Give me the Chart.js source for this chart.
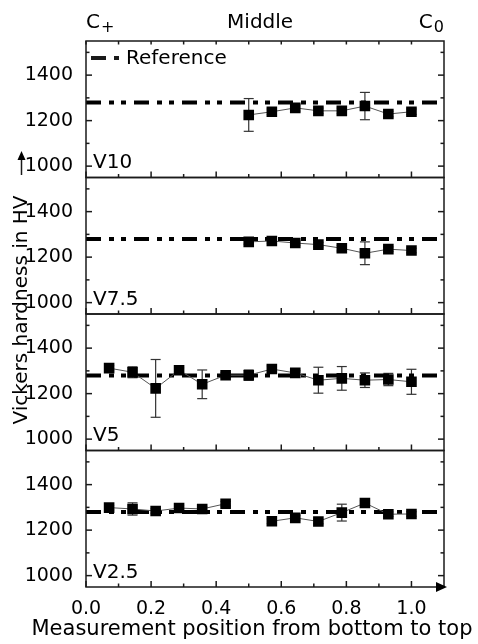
<!DOCTYPE html>
<html>
<head>
<meta charset="utf-8">
<title>Vickers hardness</title>
<script src="https://cdn.jsdelivr.net/npm/chart.js@4.4.1/dist/chart.umd.min.js"></script>
<style>
    html, body { margin: 0; padding: 0; background: #fff; }
    #wrap { position: relative; width: 478px; height: 644px; }
</style>
</head>
<body>
<div id="wrap"><canvas id="hv-chart"></canvas></div>
<script>
/* global Chart */
'use strict';

// ─── Data ───────────────────────────────────────────────────

const POSITIONS = [0.071, 0.143, 0.214, 0.286, 0.357, 0.429, 0.5, 0.571, 0.643, 0.714, 0.786, 0.857, 0.929, 1.0];

const HV_V10  = [null, null, null, null, null, null, 1225, 1239, 1256, 1243, 1243, 1264, 1229, 1239];
const ERR_V10 = [null, null, null, null, null, null, 72, 12, 14, 12, 12, 60, 12, 12];

const HV_V75  = [null, null, null, null, null, null, 1267, 1271, 1262, 1255, 1239, 1217, 1235, 1229];
const ERR_V75 = [null, null, null, null, null, null, 10, 10, 10, 10, 12, 50, 10, 10];

const HV_V5   = [1312, 1294, 1223, 1303, 1241, 1281, 1281, 1308, 1291, 1259, 1267, 1259, 1262, 1252];
const ERR_V5  = [12, 24, 127, 10, 63, 12, 23, 14, 10, 57, 52, 32, 27, 55];

const HV_V25  = [1299, 1293, 1284, 1297, 1293, 1316, null, 1239, 1254, 1238, 1277, 1319, 1270, 1271];
const ERR_V25 = [10, 27, 10, 10, 10, 10, null, 10, 10, 10, 37, 10, 10, 10];

const REFERENCE_HV = 1280;

// bottom panel first: Chart.js stacks left axes last-defined on top
const PANELS = [
    { id: 'yV25', label: 'V2.5', values: HV_V25, errors: ERR_V25 },
    { id: 'yV5',  label: 'V5',   values: HV_V5,  errors: ERR_V5 },
    { id: 'yV75', label: 'V7.5', values: HV_V75, errors: ERR_V75 },
    { id: 'yV10', label: 'V10',  values: HV_V10, errors: ERR_V10 },
];

const X_MAJOR = [0, 0.2, 0.4, 0.6, 0.8, 1.0];
const X_MINOR = [0.1, 0.3, 0.5, 0.7, 0.9];
const Y_MAJOR = [1000, 1200, 1400];
const Y_MINOR = [1100, 1300, 1500];

const TOP_LABELS = [
    { text: 'C', sub: '+', at: 0, align: 'left' },
    { text: 'Middle', at: 0.535, align: 'center' },
    { text: 'C', sub: '0', at: 1.1, align: 'right' },
];

const FONT = "'DejaVu Sans', sans-serif";
const REF_DASH = [15, 8, 5, 7, 5, 8];

Chart.defaults.font.family = FONT;
Chart.defaults.color = '#000';

// ─── Helpers ────────────────────────────────────────────────

function points(values) {
    return POSITIONS.map((x, i) => ({ x, y: values[i] }));
}

function yAxis() {
    return {
        type: 'linear',
        position: 'left',
        stack: 'panels',
        stackWeight: 1,
        min: 950,
        max: 1550,
        grid: { display: false },
        border: { display: false },
        ticks: { font: { size: 19 }, padding: 5, callback: v => String(v) },
        afterBuildTicks: s => { s.ticks = Y_MAJOR.map(v => ({ value: v })); },
        afterFit: s => { s.width = 86; },
    };
}

function tick(ctx, x1, y1, x2, y2) {
    ctx.beginPath();
    ctx.moveTo(x1, y1);
    ctx.lineTo(x2, y2);
    ctx.stroke();
}

// ─── Plugin: error bars, frames, ticks, labels ──────────────

const decor = {
    id: 'decor',
    beforeDatasetsDraw(chart) {
        const ctx = chart.ctx;
        const xs = chart.scales.x;
        ctx.save();
        ctx.strokeStyle = '#333';
        ctx.lineWidth = 1.2;
        PANELS.forEach(p => {
            const ys = chart.scales[p.id];
            p.values.forEach((v, i) => {
                const e = p.errors[i];
                if (v == null || !e) return;
                const x = xs.getPixelForValue(POSITIONS[i]);
                const top = ys.getPixelForValue(v + e);
                const bot = ys.getPixelForValue(v - e);
                tick(ctx, x, top, x, bot);
                tick(ctx, x - 5, top, x + 5, top);
                tick(ctx, x - 5, bot, x + 5, bot);
            });
        });
        ctx.restore();
    },
    afterDraw(chart) {
        const ctx = chart.ctx;
        const xs = chart.scales.x;
        const area = chart.chartArea;
        ctx.save();
        ctx.strokeStyle = '#1a1a1a';
        ctx.fillStyle = '#000';
        ctx.lineWidth = 1.5;

        PANELS.forEach((p, idx) => {
            const ys = chart.scales[p.id];
            ctx.strokeRect(area.left, ys.top, area.right - area.left, ys.bottom - ys.top);

            // x ticks on the panel floor, pointing up
            X_MAJOR.forEach(v => { const x = xs.getPixelForValue(v); tick(ctx, x, ys.bottom, x, ys.bottom - 6); });
            X_MINOR.forEach(v => { const x = xs.getPixelForValue(v); tick(ctx, x, ys.bottom, x, ys.bottom - 3.5); });
            if (idx === PANELS.length - 1) {
                X_MAJOR.concat(X_MINOR).forEach(v => { const x = xs.getPixelForValue(v); tick(ctx, x, ys.top, x, ys.top + 3.5); });
            }

            // y ticks on both sides, pointing in
            Y_MAJOR.forEach(v => {
                const y = ys.getPixelForValue(v);
                tick(ctx, area.left, y, area.left + 6, y);
                tick(ctx, area.right, y, area.right - 6, y);
            });
            Y_MINOR.forEach(v => {
                const y = ys.getPixelForValue(v);
                tick(ctx, area.left, y, area.left + 3.5, y);
                tick(ctx, area.right, y, area.right - 3.5, y);
            });

            ctx.font = '20px ' + FONT;
            ctx.textAlign = 'left';
            ctx.textBaseline = 'middle';
            ctx.fillText(p.label, area.left + 7, ys.getPixelForValue(1000) - 3);
        });

        // legend inside the top panel
        const topScale = chart.scales[PANELS[PANELS.length - 1].id];
        const ly = topScale.top + 17;
        ctx.save();
        ctx.lineWidth = 4;
        ctx.setLineDash(REF_DASH);
        tick(ctx, area.left + 5, ly, area.left + 34, ly);
        ctx.restore();
        ctx.font = '20px ' + FONT;
        ctx.textBaseline = 'middle';
        ctx.textAlign = 'left';
        ctx.fillText(chart.data.datasets[1].label, area.left + 40, ly + 1);

        // labels above the top panel
        TOP_LABELS.forEach(t => {
            const x = xs.getPixelForValue(t.at);
            ctx.textBaseline = 'alphabetic';
            ctx.font = '20px ' + FONT;
            const w = ctx.measureText(t.text).width;
            let subW = 0;
            if (t.sub) { ctx.font = '16px ' + FONT; subW = ctx.measureText(t.sub).width; }
            let start = x;
            if (t.align === 'center') start = x - (w + subW) / 2;
            if (t.align === 'right') start = x - (w + subW) - 1;
            ctx.textAlign = 'left';
            ctx.font = '20px ' + FONT;
            ctx.fillText(t.text, start, 28);
            if (t.sub) { ctx.font = '16px ' + FONT; ctx.fillText(t.sub, start + w + 1, 32); }
        });

        // y title and arrow
        ctx.save();
        ctx.translate(22, 310);
        ctx.rotate(-Math.PI / 2);
        ctx.font = '20px ' + FONT;
        ctx.textAlign = 'center';
        ctx.textBaseline = 'middle';
        ctx.fillText('Vickers hardness in HV', 0, 0);
        ctx.restore();
        ctx.lineWidth = 1.5;
        tick(ctx, 21.5, 175, 21.5, 158);
        ctx.beginPath();
        ctx.moveTo(21.5, 151);
        ctx.lineTo(17.5, 160);
        ctx.lineTo(25.5, 160);
        ctx.closePath();
        ctx.fill();

        // x arrow head and title
        ctx.beginPath();
        ctx.moveTo(area.right + 3, area.bottom);
        ctx.lineTo(area.right - 8, area.bottom - 5);
        ctx.lineTo(area.right - 8, area.bottom + 5);
        ctx.closePath();
        ctx.fill();

        ctx.font = '21px ' + FONT;
        ctx.textAlign = 'center';
        ctx.textBaseline = 'middle';
        ctx.fillText('Measurement position from bottom to top', 252, 630);
        ctx.restore();
    },
};

// ─── Chart ──────────────────────────────────────────────────

const datasets = [];
PANELS.slice().reverse().forEach(p => {
    datasets.push({
        label: p.label,
        data: points(p.values),
        yAxisID: p.id,
        order: 1,
        spanGaps: false,
        borderColor: '#555',
        borderWidth: 1,
        pointStyle: 'rect',
        pointRadius: 7.5,
        pointBackgroundColor: '#000',
        pointBorderWidth: 0,
    });
    datasets.push({
        label: 'Reference',
        data: [{ x: 0, y: REFERENCE_HV }, { x: 1.1, y: REFERENCE_HV }],
        yAxisID: p.id,
        order: 2,
        borderColor: '#000',
        borderWidth: 4,
        borderDash: REF_DASH,
        pointRadius: 0,
    });
});

const scales = {
    x: {
        type: 'linear',
        position: 'bottom',
        min: 0,
        max: 1.1,
        grid: { display: false },
        border: { display: false },
        ticks: { font: { size: 19 }, padding: 3, callback: v => v.toFixed(1) },
        afterBuildTicks: s => { s.ticks = X_MAJOR.map(v => ({ value: v })); },
        afterFit: s => { s.height = 57; },
    },
};
PANELS.forEach(p => { scales[p.id] = yAxis(); });

new Chart(document.getElementById('hv-chart'), {
    type: 'line',
    data: { datasets },
    options: {
        responsive: true,
        maintainAspectRatio: false,
        animation: false,
        layout: { padding: { top: 41, right: 34, left: 0, bottom: 0 } },
        plugins: { legend: { display: false }, tooltip: { enabled: false } },
        scales,
    },
    plugins: [decor],
});
</script>
</body>
</html>
